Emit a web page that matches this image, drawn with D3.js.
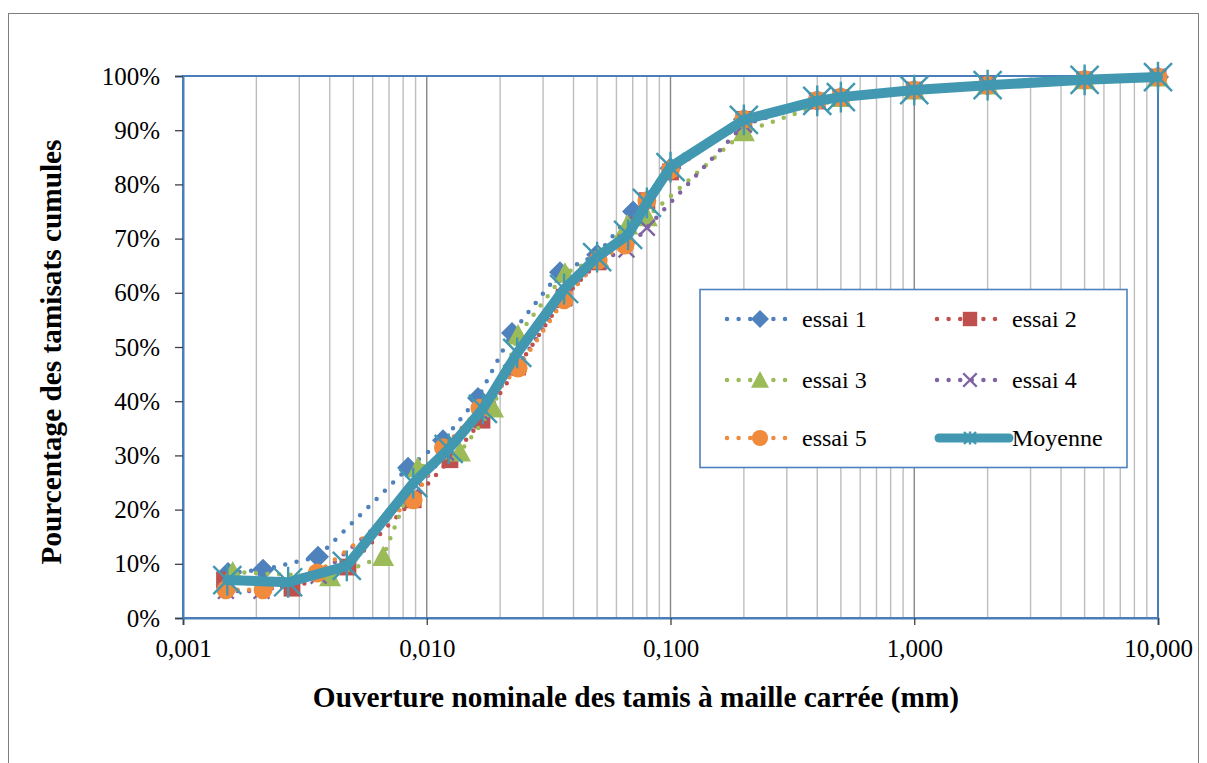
<!DOCTYPE html>
<html>
<head>
<meta charset="utf-8">
<script src="https://cdn.jsdelivr.net/npm/d3@7"></script>
<style>
  html, body { margin: 0; padding: 0; background: #fff; }
  svg { display: block; }
  text { font-family: "Liberation Serif", "Times New Roman", serif; fill: #000; }
</style>
</head>
<body>
<svg id="chart" width="1207" height="763"></svg>
<script>
// Sieve openings (mm) and cumulative passing (%) for each test
const essai1Size = [0.00153, 0.00213, 0.00358, 0.00838, 0.01166, 0.01623, 0.02238, 0.0352, 0.0500, 0.0702, 0.1, 0.2, 0.4, 0.5, 1, 2, 5, 10];
const essai1Pass = [8.3, 8.9, 11.3, 27.7, 32.8, 40.6, 52.6, 63.8, 67.0, 75.0, 83.0, 92.0, 95.5, 96.1, 97.4, 98.3, 99.3, 99.8];

const essai2Size = [0.00148, 0.0028, 0.00475, 0.0088, 0.01245, 0.01685, 0.0236, 0.0366, 0.0505, 0.08, 0.1, 0.2, 0.4, 0.5, 1, 2, 5, 10];
const essai2Pass = [7.0, 5.5, 9.4, 21.8, 29.2, 36.5, 46.3, 59.2, 65.7, 77.0, 82.3, 92.0, 95.4, 96.0, 97.4, 98.3, 99.3, 99.8];

const essai3Size = [0.0016, 0.00401, 0.00662, 0.0092, 0.01368, 0.0187, 0.0237, 0.0369, 0.0505, 0.0665, 0.08, 0.2, 0.5, 1, 2, 5, 10];
const essai3Pass = [8.5, 7.6, 11.3, 27.7, 30.6, 38.7, 52.2, 63.6, 66.5, 72.5, 74.0, 89.7, 96.0, 97.4, 98.3, 99.3, 99.8];

const essai4Size = [0.0015, 0.0021, 0.0036, 0.0087, 0.0120, 0.0166, 0.0236, 0.0366, 0.0505, 0.066, 0.08, 0.2, 0.4, 0.5, 1, 2, 5, 10];
const essai4Pass = [5.0, 5.0, 7.8, 22.5, 30.5, 38.0, 46.5, 59.0, 65.8, 68.0, 72.0, 91.0, 95.4, 96.0, 97.4, 98.3, 99.3, 99.8];

const essai5Size = [0.0015, 0.00213, 0.00355, 0.0088, 0.0117, 0.01653, 0.0237, 0.0366, 0.0505, 0.0651, 0.08, 0.1, 0.2, 0.4, 0.5, 1, 2, 5, 10];
const essai5Pass = [5.2, 5.2, 8.3, 21.8, 31.4, 38.7, 46.1, 58.7, 66.0, 68.8, 77.0, 82.7, 92.0, 95.5, 96.1, 97.4, 98.3, 99.3, 99.8];

const moyenneSize = [0.00152, 0.0027, 0.0047, 0.0088, 0.0123, 0.0170, 0.0235, 0.0366, 0.050, 0.067, 0.080, 0.1, 0.2, 0.4, 0.5, 1, 2, 5, 10];
const moyennePass = [7.0, 6.6, 9.6, 24.9, 31.2, 38.6, 48.9, 60.7, 66.6, 70.7, 76.6, 83.2, 91.9, 95.4, 96.1, 97.4, 98.3, 99.3, 99.8];

const seriesNames = ["essai 1", "essai 2", "essai 3", "essai 4", "essai 5", "Moyenne"];
const xTickValues = [0.001, 0.01, 0.1, 1, 10];
const xTickLabels = ["0,001", "0,010", "0,100", "1,000", "10,000"];
const yTickValues = [0, 10, 20, 30, 40, 50, 60, 70, 80, 90, 100];

const xTitle = "Ouverture nominale des tamis à maille carrée (mm)";
const yTitle = "Pourcentage des tamisats cumules";

// ---- layout ----
const FONT = "Liberation Serif, Times New Roman, serif";
const svg = d3.select("#chart");
const plot = { left: 183, right: 1158, top: 76, bottom: 618 };

const x = d3.scaleLog().domain([0.001, 10]).range([plot.left, plot.right]);
const y = d3.scaleLinear().domain([0, 100]).range([plot.bottom, plot.top]);

// chart area frame
svg.append("rect")
  .attr("x", 8.5).attr("y", 13.5)
  .attr("width", 1190).attr("height", 800)
  .attr("fill", "#fff").attr("stroke", "#7f7f7f").attr("stroke-width", 1);

// vertical log gridlines (minor 2..9 and decades)
const minorTicks = [];
for (let d = -3; d < 1; d++) {
  for (let m = 2; m <= 9; m++) minorTicks.push(m * Math.pow(10, d));
}
svg.append("g").selectAll("line").data(minorTicks).join("line")
  .attr("x1", d => x(d)).attr("x2", d => x(d))
  .attr("y1", plot.top).attr("y2", plot.bottom)
  .attr("stroke", "#bdbdbd").attr("stroke-width", 1.4);
svg.append("g").selectAll("line").data(xTickValues.slice(1, -1)).join("line")
  .attr("x1", d => x(d)).attr("x2", d => x(d))
  .attr("y1", plot.top).attr("y2", plot.bottom)
  .attr("stroke", "#868686").attr("stroke-width", 1.4);

// plot area border
svg.append("rect")
  .attr("x", plot.left).attr("y", plot.top)
  .attr("width", plot.right - plot.left).attr("height", plot.bottom - plot.top)
  .attr("fill", "none").attr("stroke", "#4a7ebb").attr("stroke-width", 2);

// axes
const xAxis = d3.axisBottom(x).tickValues(xTickValues)
  .tickFormat((d, i) => xTickLabels[i]).tickSize(7).tickPadding(14);
const gx = svg.append("g").attr("transform", `translate(0,${plot.bottom})`).call(xAxis)
  .attr("font-family", FONT);
gx.select(".domain").attr("stroke", "#4a7ebb").attr("stroke-width", 2);
gx.selectAll(".tick line").attr("stroke", "#404040").attr("stroke-width", 1.3);
gx.selectAll(".tick text").attr("font-size", 25).attr("font-family", FONT).attr("fill", "#000");

const yAxis = d3.axisLeft(y).tickValues(yTickValues)
  .tickFormat(d => d + "%").tickSize(8).tickPadding(15);
const gy = svg.append("g").attr("transform", `translate(${plot.left},0)`).call(yAxis)
  .attr("font-family", FONT);
gy.select(".domain").attr("stroke", "#4a7ebb").attr("stroke-width", 2);
gy.selectAll(".tick line").attr("stroke", "#404040").attr("stroke-width", 1.3);
gy.selectAll(".tick text").attr("font-size", 25).attr("font-family", FONT).attr("fill", "#000");

// axis titles
svg.append("text")
  .attr("x", 636).attr("y", 707)
  .attr("text-anchor", "middle").attr("font-family", FONT)
  .attr("font-weight", "bold").attr("font-size", 29.3)
  .text(xTitle);
svg.append("text")
  .attr("transform", `translate(61,352) rotate(-90)`)
  .attr("text-anchor", "middle").attr("font-family", FONT)
  .attr("font-weight", "bold").attr("font-size", 29.3)
  .text(yTitle);

// ---- series ----
const colors = ["#4f81bd", "#c0504d", "#9bbb59", "#8064a2", "#f08a3c", "#4198b0"];
const sizes = [essai1Size, essai2Size, essai3Size, essai4Size, essai5Size, moyenneSize];
const passes = [essai1Pass, essai2Pass, essai3Pass, essai4Pass, essai5Pass, moyennePass];

const line = d3.line().x(d => x(d[0])).y(d => y(d[1]));

function drawMarker(g, type, cx, cy, color, s) {
  if (type === "diamond") {
    g.append("path").attr("d", `M${cx},${cy - s}L${cx + s},${cy}L${cx},${cy + s}L${cx - s},${cy}Z`)
      .attr("fill", color);
  } else if (type === "square") {
    g.append("rect").attr("x", cx - s * 0.8).attr("y", cy - s * 0.8)
      .attr("width", s * 1.6).attr("height", s * 1.6).attr("fill", color);
  } else if (type === "triangle") {
    g.append("path").attr("d", `M${cx},${cy - s}L${cx + s},${cy + s * 0.85}L${cx - s},${cy + s * 0.85}Z`)
      .attr("fill", color);
  } else if (type === "x") {
    const r = s * 0.75;
    g.append("path").attr("d", `M${cx - r},${cy - r}L${cx + r},${cy + r}M${cx - r},${cy + r}L${cx + r},${cy - r}`)
      .attr("stroke", color).attr("stroke-width", 2.4).attr("fill", "none");
  } else if (type === "circle") {
    g.append("circle").attr("cx", cx).attr("cy", cy).attr("r", s * 0.9).attr("fill", color);
  } else if (type === "star") {
    const r = s;
    g.append("path").attr("d", `M${cx - r},${cy - r}L${cx + r},${cy + r}M${cx - r},${cy + r}L${cx + r},${cy - r}M${cx},${cy - r * 1.1}L${cx},${cy + r * 1.1}`)
      .attr("stroke", color).attr("stroke-width", 2.4).attr("fill", "none");
  }
}

const markerTypes = ["diamond", "square", "triangle", "x", "circle", "star"];
const plotMarkerSize = [11, 10.5, 11, 10.5, 10.5, 14];

const gSeries = svg.append("g");
seriesNames.forEach((name, i) => {
  const pts = sizes[i].map((s, k) => [s, passes[i][k]]);
  const g = gSeries.append("g");
  if (i < 5) {
    g.append("path").datum(pts).attr("d", line)
      .attr("fill", "none").attr("stroke", colors[i]).attr("stroke-width", 4.5)
      .attr("stroke-linecap", "round").attr("stroke-dasharray", "0 11.6");
  } else {
    g.append("path").datum(pts).attr("d", line)
      .attr("fill", "none").attr("stroke", colors[i]).attr("stroke-width", 10)
      .attr("stroke-linejoin", "round").attr("stroke-linecap", "round");
  }
  pts.forEach(p => drawMarker(g, markerTypes[i], x(p[0]), y(p[1]), colors[i], plotMarkerSize[i]));
});

// ---- legend ----
const legend = svg.append("g");
legend.append("rect")
  .attr("x", 700).attr("y", 289.5).attr("width", 427).attr("height", 178)
  .attr("fill", "#fff").attr("stroke", "#4f81bd").attr("stroke-width", 1.6);

const legCols = [727, 937];
const legRows = [319, 380, 438];
seriesNames.forEach((name, i) => {
  const col = i % 2, row = Math.floor(i / 2);
  const lx = legCols[col], ly = legRows[row];
  const g = legend.append("g");
  if (i < 5) {
    g.append("line").attr("x1", lx).attr("x2", lx + 60).attr("y1", ly).attr("y2", ly)
      .attr("stroke", colors[i]).attr("stroke-width", 4.5)
      .attr("stroke-linecap", "round").attr("stroke-dasharray", "0 11.6");
  } else {
    g.append("line").attr("x1", lx + 2).attr("x2", lx + 72).attr("y1", ly).attr("y2", ly)
      .attr("stroke", colors[i]).attr("stroke-width", 9).attr("stroke-linecap", "round");
  }
  drawMarker(g, markerTypes[i], lx + 33, ly, colors[i], i < 5 ? 9 : 6);
  g.append("text").attr("x", lx + 75).attr("y", ly + 8)
    .attr("font-family", FONT).attr("font-size", 24).text(name);
});
</script>
</body>
</html>
